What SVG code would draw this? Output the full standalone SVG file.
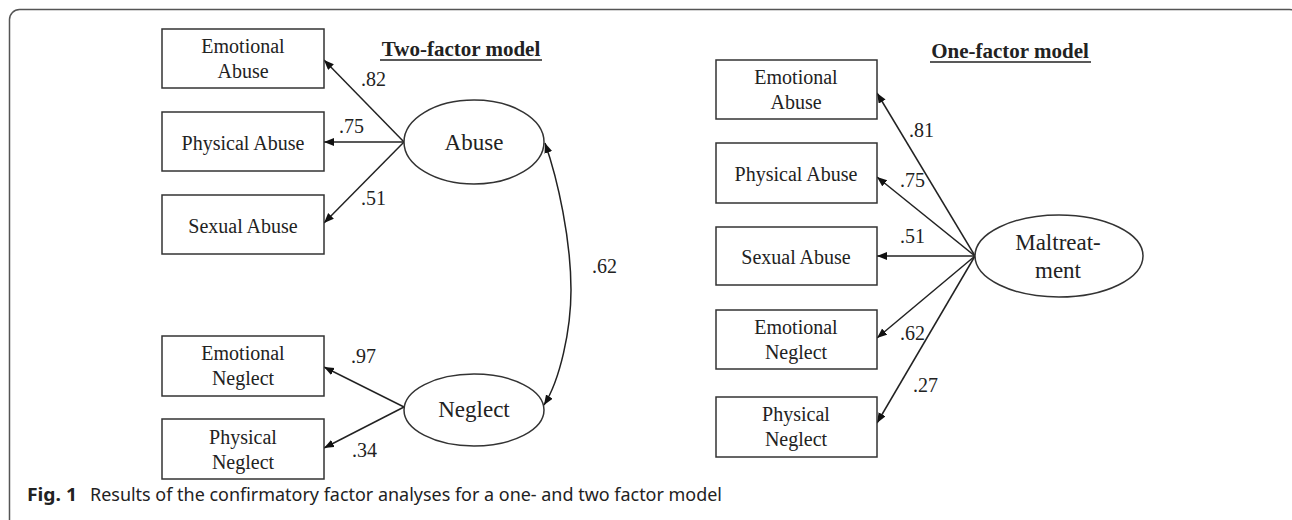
<svg xmlns="http://www.w3.org/2000/svg" width="1292" height="520" viewBox="0 0 1292 520">
<style>
.box{fill:#fff;stroke:#333;stroke-width:1.5}
.ell{fill:#fff;stroke:#333;stroke-width:1.5}
.t{font-family:"Liberation Serif","Times New Roman",serif;font-size:20px;fill:#222;text-anchor:middle}
.f{font-family:"Liberation Serif","Times New Roman",serif;font-size:23px;fill:#222;text-anchor:middle}
.v{font-family:"Liberation Serif","Times New Roman",serif;font-size:20px;fill:#222}
.title{font-family:"Liberation Serif","Times New Roman",serif;font-size:21px;font-weight:bold;fill:#222;text-anchor:middle}
.ln{stroke:#222;stroke-width:1.5;fill:none;marker-end:url(#ah)}
.cap{font-family:"Noto Sans","Open Sans",sans-serif;font-size:18px;fill:#222}
</style>
<defs>
<marker id="ah" markerUnits="userSpaceOnUse" markerWidth="12" markerHeight="10" refX="10" refY="4" orient="auto-start-reverse">
<path d="M0,0 L10,4 L0,8 Z" fill="#111"/>
</marker>
</defs>
<rect x="9.5" y="9.5" width="1290" height="530" rx="10" fill="none" stroke="#555" stroke-width="1.5"/>

<g id="titles">
<text class="title" x="461" y="56">Two-factor model</text>
<line x1="380" y1="60" x2="542" y2="60" stroke="#222" stroke-width="1.5"/>
<text class="title" x="1010" y="58">One-factor model</text>
<line x1="930" y1="62" x2="1091" y2="62" stroke="#222" stroke-width="1.5"/>
</g>

<g id="connectors">
<line class="ln" x1="404" y1="142" x2="324" y2="60"/>
<line class="ln" x1="404" y1="142" x2="324" y2="142"/>
<line class="ln" x1="404" y1="142" x2="324" y2="223"/>
<line class="ln" x1="404" y1="407" x2="324" y2="367"/>
<line class="ln" x1="404" y1="407" x2="324" y2="448"/>
<path class="ln" style="marker-start:url(#ah)" d="M545,143 C558,180 571,240 571,290 C571,330 560,380 544,405"/>
<line class="ln" x1="975" y1="256" x2="877" y2="93"/>
<line class="ln" x1="975" y1="256" x2="877" y2="177"/>
<line class="ln" x1="975" y1="256" x2="877" y2="256"/>
<line class="ln" x1="975" y1="256" x2="877" y2="338"/>
<line class="ln" x1="975" y1="256" x2="877" y2="423"/>
</g>

<g id="labels">
<text class="v" x="361" y="86">.82</text>
<text class="v" x="339" y="133">.75</text>
<text class="v" x="361" y="205">.51</text>
<text class="v" x="351" y="363">.97</text>
<text class="v" x="352" y="457">.34</text>
<text class="v" x="592" y="273">.62</text>
<text class="v" x="909" y="137">.81</text>
<text class="v" x="900" y="187">.75</text>
<text class="v" x="900" y="243">.51</text>
<text class="v" x="900" y="340">.62</text>
<text class="v" x="913" y="392">.27</text>
</g>

<g id="l-emotional-abuse"><rect class="box" x="162" y="29" width="162" height="59"/><text class="t" x="243" y="53">Emotional</text><text class="t" x="243" y="78">Abuse</text></g>
<g id="l-physical-abuse"><rect class="box" x="162" y="112" width="162" height="59"/><text class="t" x="243" y="150">Physical Abuse</text></g>
<g id="l-sexual-abuse"><rect class="box" x="162" y="195" width="162" height="59"/><text class="t" x="243" y="233">Sexual Abuse</text></g>
<g id="l-emotional-neglect"><rect class="box" x="162" y="336" width="162" height="60"/><text class="t" x="243" y="360">Emotional</text><text class="t" x="243" y="385">Neglect</text></g>
<g id="l-physical-neglect"><rect class="box" x="162" y="419" width="162" height="60"/><text class="t" x="243" y="444">Physical</text><text class="t" x="243" y="469">Neglect</text></g>
<g id="abuse"><ellipse class="ell" cx="474" cy="142" rx="70" ry="42"/><text class="f" x="474" y="150">Abuse</text></g>
<g id="neglect"><ellipse class="ell" cx="474" cy="410" rx="70" ry="36"/><text class="f" x="474" y="417">Neglect</text></g>

<g id="r-emotional-abuse"><rect class="box" x="716" y="60" width="161" height="59"/><text class="t" x="796" y="84">Emotional</text><text class="t" x="796" y="109">Abuse</text></g>
<g id="r-physical-abuse"><rect class="box" x="716" y="143" width="161" height="60"/><text class="t" x="796" y="181">Physical Abuse</text></g>
<g id="r-sexual-abuse"><rect class="box" x="716" y="227" width="161" height="58"/><text class="t" x="796" y="264">Sexual Abuse</text></g>
<g id="r-emotional-neglect"><rect class="box" x="716" y="310" width="161" height="59"/><text class="t" x="796" y="334">Emotional</text><text class="t" x="796" y="359">Neglect</text></g>
<g id="r-physical-neglect"><rect class="box" x="716" y="397" width="161" height="60"/><text class="t" x="796" y="421">Physical</text><text class="t" x="796" y="446">Neglect</text></g>
<g id="maltreatment"><ellipse class="ell" cx="1059" cy="256" rx="84" ry="41"/><text class="f" x="1058" y="250">Maltreat-</text><text class="f" x="1058" y="278">ment</text></g>

<g id="caption">
<text class="cap" x="27" y="501" font-weight="bold" textLength="50" lengthAdjust="spacingAndGlyphs">Fig. 1</text>
<text class="cap" x="90" y="501" textLength="632" lengthAdjust="spacingAndGlyphs">Results of the confirmatory factor analyses for a one- and two factor model</text>
</g>
</svg>
